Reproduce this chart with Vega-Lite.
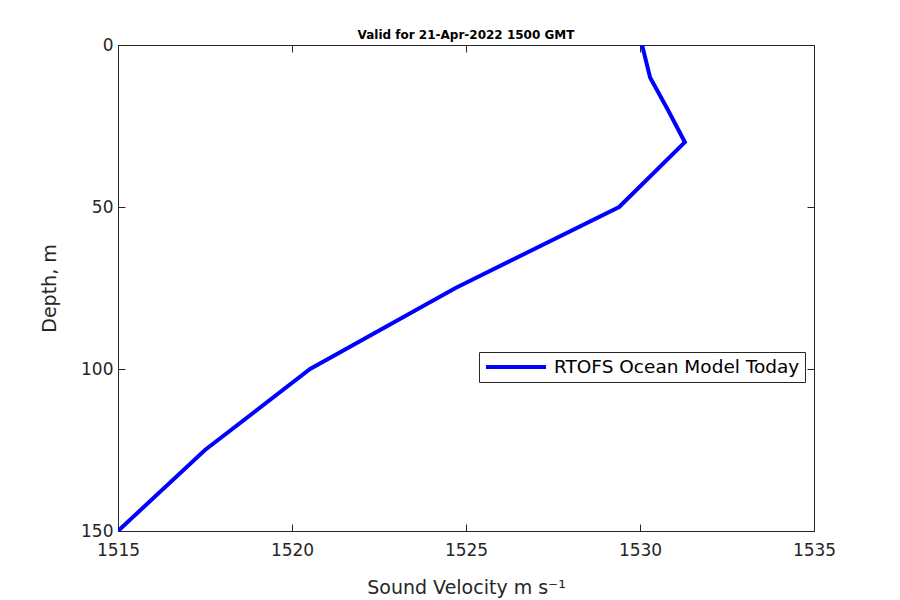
{
  "$schema": "https://vega.github.io/schema/vega-lite/v6.json",
  "width": 696,
  "height": 486,
  "autosize": "none",
  "padding": {"left": 118, "top": 45, "right": 86, "bottom": 69},
  "background": "white",
  "config": {
    "font": "DejaVu Sans",
    "view": {"stroke": "#262626", "strokeWidth": 1},
    "axis": {"grid": false, "labelFlush": false, "labelOverlap": false, "domainColor": "#262626", "tickColor": "#262626", "labelColor": "#262626", "titleColor": "#262626", "labelFont": "DejaVu Sans", "titleFont": "DejaVu Sans", "labelFontSize": 17, "titleFontSize": 19, "titleFontWeight": "normal", "tickSize": -7, "domainWidth": 1}
  },
  "title": {"text": "Valid for 21-Apr-2022 1500 GMT", "fontSize": 12, "fontWeight": "bold", "color": "black", "font": "DejaVu Sans", "offset": -6},
  "data": {"values": [
    {"velocity": 1530.06, "depth": 0, "series": "RTOFS Ocean Model Today"},
    {"velocity": 1530.29, "depth": 10, "series": "RTOFS Ocean Model Today"},
    {"velocity": 1530.8, "depth": 20, "series": "RTOFS Ocean Model Today"},
    {"velocity": 1531.29, "depth": 30, "series": "RTOFS Ocean Model Today"},
    {"velocity": 1529.4, "depth": 50, "series": "RTOFS Ocean Model Today"},
    {"velocity": 1524.7, "depth": 75, "series": "RTOFS Ocean Model Today"},
    {"velocity": 1520.52, "depth": 100, "series": "RTOFS Ocean Model Today"},
    {"velocity": 1517.5, "depth": 125, "series": "RTOFS Ocean Model Today"},
    {"velocity": 1515.0, "depth": 150, "series": "RTOFS Ocean Model Today"}
  ]},
  "layer": [
    {
      "mark": {"type": "line", "strokeWidth": 4, "clip": true},
      "encoding": {
        "x": {"field": "velocity", "type": "quantitative", "scale": {"domain": [1515, 1535], "nice": false, "zero": false},
              "axis": {"orient": "bottom", "values": [1515, 1520, 1525, 1530, 1535], "format": "d", "labelPadding": 18, "title": "Sound Velocity m s⁻¹", "titlePadding": 20}},
        "y": {"field": "depth", "type": "quantitative", "scale": {"domain": [0, 150], "reverse": true, "nice": false, "zero": false},
              "axis": {"orient": "left", "values": [0, 50, 100, 150], "format": "d", "labelPadding": 12, "title": "Depth, m", "titlePadding": 21}},
        "order": {"field": "depth", "type": "quantitative"},
        "color": {"field": "series", "type": "nominal", "scale": {"range": ["#0000ff"]},
                  "legend": {"title": null, "orient": "none", "legendX": 361, "legendY": 307, "symbolType": "stroke", "symbolSize": 3600, "symbolStrokeWidth": 4, "labelFontSize": 18.5, "labelColor": "black", "labelFont": "DejaVu Sans", "labelLimit": 0, "strokeColor": "#262626", "fillColor": "white", "padding": 5, "labelOffset": 6, "clipHeight": 20}}
      }
    },
    {
      "mark": {"type": "point", "opacity": 0},
      "encoding": {
        "x": {"field": "velocity", "type": "quantitative", "axis": {"orient": "top", "values": [1515, 1520, 1525, 1530, 1535], "labels": false, "title": null}},
        "y": {"field": "depth", "type": "quantitative", "axis": {"orient": "right", "values": [0, 50, 100, 150], "labels": false, "title": null}}
      }
    }
  ],
  "resolve": {"axis": {"x": "independent", "y": "independent"}}
}
